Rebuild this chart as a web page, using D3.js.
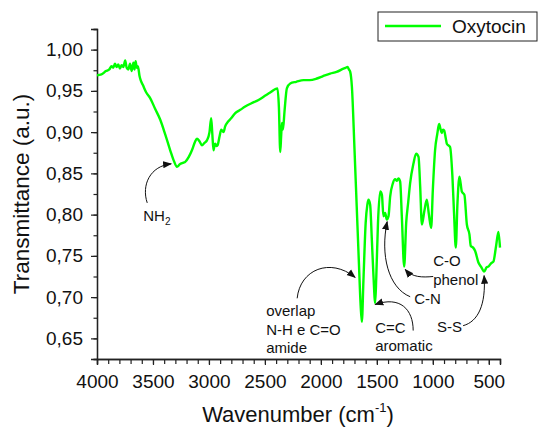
<!DOCTYPE html>
<html>
<head>
<meta charset="utf-8">
<script src="https://cdn.jsdelivr.net/npm/d3@7"></script>
<style>
  html, body { margin: 0; padding: 0; background: #fff; }
  svg { display: block; font-family: Arial, "Liberation Sans", sans-serif; }
</style>
</head>
<body>
<div id="chart"></div>
<script>
// FTIR spectrum of oxytocin
const wavenumbers = [
  4000, 3960, 3920, 3890, 3870, 3855, 3840, 3825, 3810, 3795, 3780, 3765, 3748, 3735, 3720, 3705,
  3690, 3675, 3665, 3655, 3645, 3635, 3620, 3610, 3590, 3560, 3524, 3480, 3435, 3390, 3346, 3310,
  3286, 3260, 3227, 3212, 3180, 3152, 3125, 3107, 3085, 3062, 3040, 3018, 2995, 2980, 2970, 2959,
  2950, 2944, 2930, 2923, 2905, 2890, 2870, 2855, 2839, 2800, 2765, 2720, 2676, 2620, 2557, 2500,
  2453, 2410, 2388, 2375, 2363, 2355, 2348, 2339, 2325, 2304, 2274, 2220, 2155, 2100, 2036, 1980,
  1917, 1860, 1798, 1780, 1762, 1750, 1738, 1723, 1700, 1680, 1660, 1645, 1634, 1620, 1600, 1585,
  1575, 1560, 1545, 1530, 1515, 1505, 1490, 1470, 1455, 1441, 1426, 1411, 1396, 1381, 1357, 1337,
  1321, 1307, 1292, 1277, 1256, 1238, 1220, 1203, 1173, 1149, 1128, 1113, 1098, 1075, 1054, 1035,
  1015, 1000, 980, 960, 944, 930, 920, 910, 899, 885, 875, 846, 825, 810, 795, 780,
  762, 741, 718, 696, 673, 661, 640, 622, 593, 570, 542, 520, 504, 480, 459, 435,
  414, 400
];
const transmittance = [
  0.969, 0.970, 0.974, 0.976, 0.980, 0.978, 0.983, 0.979, 0.982, 0.977, 0.981, 0.979, 0.987, 0.978, 0.976, 0.983,
  0.974, 0.984, 0.976, 0.986, 0.978, 0.980, 0.968, 0.963, 0.957, 0.948, 0.941, 0.928, 0.915, 0.897, 0.878, 0.864,
  0.858, 0.861, 0.863, 0.864, 0.870, 0.878, 0.888, 0.892, 0.889, 0.884, 0.887, 0.890, 0.900, 0.917, 0.898, 0.878,
  0.884, 0.886, 0.883, 0.884, 0.895, 0.903, 0.900, 0.907, 0.911, 0.917, 0.923, 0.927, 0.931, 0.935, 0.939, 0.944,
  0.948, 0.952, 0.953, 0.930, 0.876, 0.895, 0.911, 0.903, 0.925, 0.953, 0.959, 0.961, 0.963, 0.963, 0.965, 0.968,
  0.971, 0.973, 0.977, 0.978, 0.979, 0.976, 0.973, 0.955, 0.880, 0.810, 0.740, 0.690, 0.670, 0.720, 0.790, 0.812,
  0.818, 0.812, 0.770, 0.725, 0.693, 0.725, 0.790, 0.828, 0.824, 0.798, 0.802, 0.794, 0.798, 0.822, 0.838, 0.843,
  0.841, 0.844, 0.840, 0.798, 0.737, 0.790, 0.815, 0.838, 0.862, 0.874, 0.870, 0.834, 0.788, 0.805, 0.818, 0.800,
  0.784, 0.830, 0.878, 0.898, 0.910, 0.903, 0.899, 0.903, 0.902, 0.893, 0.886, 0.882, 0.846, 0.800, 0.760, 0.814,
  0.846, 0.828, 0.824, 0.788, 0.776, 0.762, 0.760, 0.756, 0.742, 0.737, 0.731, 0.736, 0.737, 0.741, 0.743, 0.762,
  0.779, 0.760
];

const xTicks = [4000, 3500, 3000, 2500, 2000, 1500, 1000, 500];
const yTicks = [0.65, 0.70, 0.75, 0.80, 0.85, 0.90, 0.95, 1.00];
const seriesName = "Oxytocin";

// band assignments: tip = [wavenumber, transmittance] the arrow points to
const bandLabels = ["NH2", "overlap|N-H e C=O|amide", "C=C|aromatic", "C-N", "C-O|phenol", "S-S"];
const bandTips = [[3337, 0.8615], [1694, 0.724], [1515, 0.691], [1408, 0.7914], [1247, 0.7335], [542, 0.726]];

const width = 538, height = 429;
const margin = {top: 29, right: 38, bottom: 70, left: 97};
const green = "#00ff00";

const svg = d3.select("#chart").append("svg")
  .attr("width", width)
  .attr("height", height);

const x = d3.scaleLinear().domain([4000, 400]).range([margin.left, width - margin.right]);
const y = d3.scaleLinear().domain([0.625, 1.025]).range([height - margin.bottom, margin.top]);

const fmt = d => d.toFixed(2).replace(".", ",");

// x axis, minor every 100
const xAxis = svg.append("g")
  .attr("transform", `translate(0,${height - margin.bottom})`)
  .call(d3.axisBottom(x).tickValues(d3.range(4000, 399, -100)).tickSize(5).tickFormat(""));
xAxis.append("g")
  .call(d3.axisBottom(x).tickValues(xTicks).tickSize(6).tickPadding(10).tickFormat(d3.format("d")));

// y axis, minor every 0.025
const yAxis = svg.append("g")
  .attr("transform", `translate(${margin.left},0)`)
  .call(d3.axisLeft(y).tickValues(d3.range(0, 17).map(i => 0.625 + i * 0.025)).tickSize(3.5).tickFormat(""));
yAxis.append("g")
  .call(d3.axisLeft(y).tickValues(yTicks).tickSize(6).tickPadding(8).tickFormat(fmt));

svg.selectAll(".domain").attr("stroke", "#222").attr("stroke-width", 1.3);
svg.selectAll(".tick line").attr("stroke", "#222").attr("stroke-width", 1.2);
svg.selectAll(".tick text").attr("font-size", 19).attr("fill", "#111")
  .attr("font-family", "Arial, 'Liberation Sans', sans-serif");

// axis titles
svg.append("text")
  .attr("transform", `translate(29,${(margin.top + height - margin.bottom) / 2}) rotate(-90)`)
  .attr("text-anchor", "middle")
  .attr("font-size", 22.5)
  .attr("fill", "#111")
  .text("Transmittance (a.u.)");

const xt = svg.append("text")
  .attr("x", 298).attr("y", 422)
  .attr("text-anchor", "middle")
  .attr("font-size", 22)
  .attr("fill", "#111");
xt.append("tspan").text("Wavenumber (cm");
xt.append("tspan").attr("font-size", 13).attr("dy", -10).text("-1");
xt.append("tspan").attr("dy", 10).text(")");

// spectrum
const data = wavenumbers.map((w, i) => ({w, t: transmittance[i]}));
svg.append("path")
  .datum(data)
  .attr("fill", "none")
  .attr("stroke", green)
  .attr("stroke-width", 2.4)
  .attr("stroke-linejoin", "round")
  .attr("d", d3.line().x(d => x(d.w)).y(d => y(d.t)).curve(d3.curveMonotoneX));

// legend
const lg = svg.append("g").attr("transform", "translate(378,12)");
lg.append("rect").attr("width", 159).attr("height", 29)
  .attr("fill", "#fff").attr("stroke", "#222").attr("stroke-width", 1);
lg.append("line").attr("x1", 7).attr("x2", 63).attr("y1", 14).attr("y2", 14)
  .attr("stroke", green).attr("stroke-width", 2.4);
lg.append("text").attr("x", 74).attr("y", 21).attr("font-size", 19).attr("fill", "#111").text(seriesName);

// annotations
svg.append("defs").append("marker")
  .attr("id", "head")
  .attr("viewBox", "0 0 10 10")
  .attr("refX", 9).attr("refY", 5)
  .attr("markerWidth", 9).attr("markerHeight", 9)
  .attr("markerUnits", "userSpaceOnUse")
  .attr("orient", "auto")
  .append("path").attr("d", "M0,1 L10,5 L0,9 Z").attr("fill", "#111");

// per label: curve tail/controls relative to the tip, and text offset
const arrowShapes = [
  {tail: [-24, 39], c1: [-30, 21], c2: [-21, 2], text: [-28, 57]},
  {tail: [-58, 21], c1: [-55, -8], c2: [-25, -20], text: [-89, 39]},
  {tail: [38, 26], c1: [38, 5], c2: [25, -9], text: [0, 28]},
  {tail: [23, 75], c1: [1, 66], c2: [-7, 33], text: [27, 82]},
  {tail: [28, 7], c1: [17, 8], c2: [7, 8], text: [28, -3]},
  {tail: [-21, 50], c1: [-6, 46], c2: [2, 29], text: [-47, 56]}
];

const ann = svg.append("g").attr("fill", "#111").attr("font-size", 15);
bandLabels.forEach((label, i) => {
  const tx = x(bandTips[i][0]), ty = y(bandTips[i][1]);
  const s = arrowShapes[i];
  const p = d3.path();
  p.moveTo(tx + s.tail[0], ty + s.tail[1]);
  p.bezierCurveTo(tx + s.c1[0], ty + s.c1[1], tx + s.c2[0], ty + s.c2[1], tx, ty);
  ann.append("path").attr("d", p.toString())
    .attr("fill", "none").attr("stroke", "#111").attr("stroke-width", 1)
    .attr("marker-end", "url(#head)");

  const t = ann.append("text").attr("x", tx + s.text[0]).attr("y", ty + s.text[1]);
  if (label === "NH2") {
    t.append("tspan").text("NH");
    t.append("tspan").attr("font-size", 10).attr("dy", 4).text("2");
  } else {
    label.split("|").forEach((line, j) => {
      t.append("tspan").attr("x", tx + s.text[0]).attr("dy", j === 0 ? 0 : 18.5).text(line);
    });
  }
});
</script>
</body>
</html>
